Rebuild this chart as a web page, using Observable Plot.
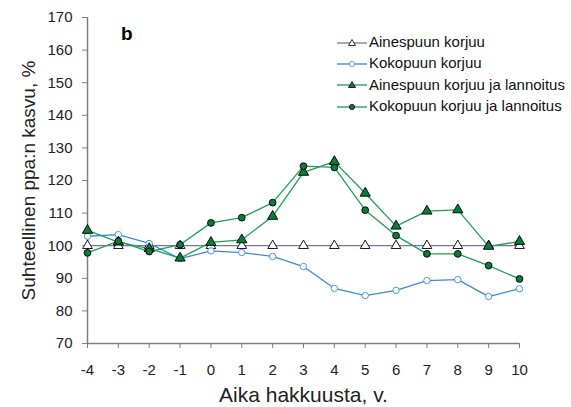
<!DOCTYPE html>
<html><head><meta charset="utf-8">
<script src="https://cdn.jsdelivr.net/npm/d3@7"></script>
<script src="https://cdn.jsdelivr.net/npm/@observablehq/plot@0.6"></script>
<style>
body{margin:0;background:#fff;font-family:"Liberation Sans",Arial,sans-serif;}
#wrap{position:relative;width:571px;height:407px;overflow:hidden;}
#legend{position:absolute;left:335px;top:31px;font-size:15px;color:#111;white-space:nowrap;width:236px;}
#legend .row{display:flex;align-items:center;height:21.3px;}
#legend svg{margin-right:2px;flex:none;}
#tag{position:absolute;left:121px;top:23px;font-size:19px;font-weight:bold;}
</style></head>
<body><div id="wrap"><div id="tag">b</div><div id="legend"></div></div>
<script>
const years = [-4,-3,-2,-1,0,1,2,3,4,5,6,7,8,9,10];
const ainespuun = [100,100,100,100,100,100,100,100,100,100,100,100,100,100,100];
const kokopuun = [102.9,103.4,100.7,96.0,98.4,97.9,96.7,93.6,86.9,84.7,86.3,89.3,89.6,84.4,86.8];
const ainespuunLann = [104.7,101.1,99.1,96.2,101.0,101.8,109.0,122.5,125.8,116.1,106.0,110.6,111.0,99.8,101.3];
const kokopuunLann = [97.8,101.4,98.2,100.3,107.0,108.6,113.2,124.4,124.0,110.9,103.1,97.5,97.5,93.9,89.8];
const yTicks = [70,80,90,100,110,120,130,140,150,160,170];
const seriesNames = ["Ainespuun korjuu","Kokopuun korjuu","Ainespuun korjuu ja lannoitus","Kokopuun korjuu ja lannoitus"];

const styles = [
  {line:"#7a70b0", symbol:"triangle", fill:"#fff", stroke:"#000", r:3.6},
  {line:"#3d8ad8", symbol:"circle", fill:"#fff", stroke:"#3d8ad8", r:3.2},
  {line:"#1f9e5a", symbol:"triangle", fill:"#0b7a3a", stroke:"#000", r:3.8},
  {line:"#1f9e5a", symbol:"circle", fill:"#0b7a3a", stroke:"#000", r:3.4}
];
const all = [ainespuun,kokopuun,ainespuunLann,kokopuunLann];
const data = all.map((arr,i)=>arr.map((v,j)=>({x:years[j],y:v,s:i})));

const marks = [
  Plot.ruleX([-4],{stroke:"#808080",strokeWidth:1.5}),
  Plot.ruleY([70],{stroke:"#808080",strokeWidth:1.5}),
  Plot.axisY({ticks:yTicks,tickSize:5,tickPadding:10,stroke:"#808080",fontSize:15,fill:"#222",label:null}),
  Plot.axisX({ticks:years,tickSize:5,tickPadding:16,stroke:"#808080",fontSize:15,fill:"#222",label:null,tickFormat:d=>String(d)}),
  Plot.text(["Suhteellinen ppa:n kasvu, %"],{frameAnchor:"left",textAnchor:"middle",rotate:-90,dx:-59,fontSize:19,fill:"#222"}),
  Plot.text(["Aika hakkuusta, v."],{frameAnchor:"bottom",dy:58,fontSize:21,fill:"#222"})
];
data.forEach((d,i)=>{
  const st = styles[i];
  marks.push(Plot.line(d,{x:"x",y:"y",stroke:st.line,strokeWidth:1.3}));
});
data.forEach((d,i)=>{
  const st = styles[i];
  marks.push(Plot.dot(d,{x:"x",y:"y",symbol:st.symbol,r:st.r,fill:st.fill,stroke:st.stroke,strokeWidth:0.9}));
});

const chart = Plot.plot({
  width:571, height:407,
  marginLeft:87, marginRight:52, marginTop:17, marginBottom:64,
  x:{domain:[-4,10]},
  y:{domain:[70,170]},
  style:{fontFamily:"'Liberation Sans',Arial,sans-serif",background:"#fff",overflow:"visible"},
  marks
});
document.getElementById("wrap").prepend(chart);
chart.style.position="absolute";chart.style.left="0";chart.style.top="0";

const leg = document.getElementById("legend");
seriesNames.forEach((name,i)=>{
  const st = styles[i];
  const row = document.createElement("div"); row.className="row";
  const sym = st.symbol==="triangle"
    ? `<path d="M17,7.5 L20.5,13.5 L13.5,13.5 Z" fill="${st.fill}" stroke="${st.stroke}" stroke-width="0.8"/>`
    : `<circle cx="17" cy="11" r="2.6" fill="${st.fill}" stroke="${st.stroke}" stroke-width="0.8"/>`;
  row.innerHTML = `<svg width="32" height="20"><line x1="2" x2="32" y1="11" y2="11" stroke="${st.line}" stroke-width="1.3"/>${sym}</svg><span>${name}</span>`;
  leg.appendChild(row);
});
</script></body></html>
